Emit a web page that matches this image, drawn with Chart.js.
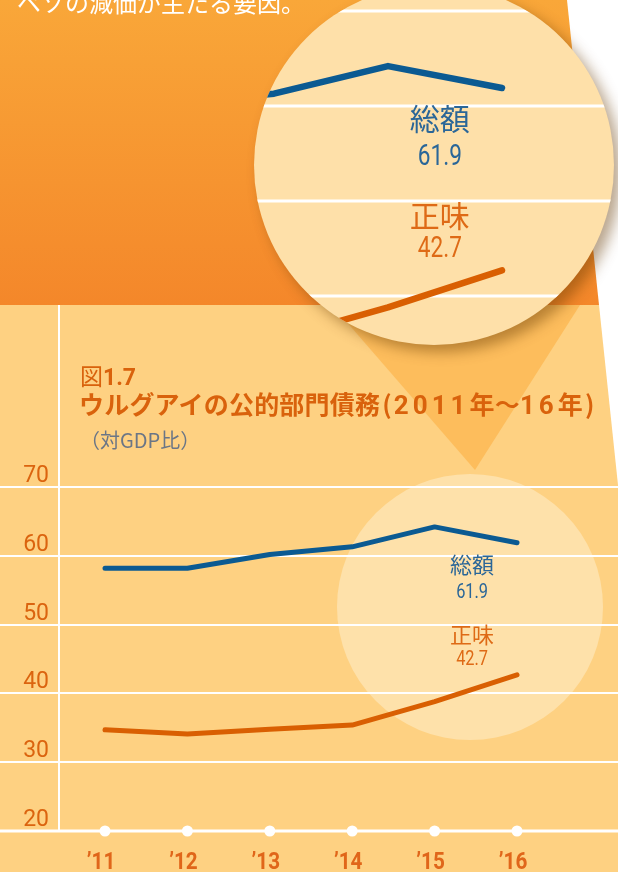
<!DOCTYPE html>
<html lang="ja">
<head>
<meta charset="utf-8">
<script src="https://cdn.jsdelivr.net/npm/chart.js@4.4.1/dist/chart.umd.min.js"></script>
<style>
body { margin: 0; background: #fff; }
#wrap { position: relative; width: 618px; height: 872px; overflow: hidden; font-family: "Noto Sans CJK JP", sans-serif; }
#main { position: absolute; left: 0; top: 0; }
#lens { position: absolute; left: 254px; top: -15px; width: 360px; height: 360px; border-radius: 50%; overflow: hidden; background: #fee0a9; box-shadow: 7px 7px 14px rgba(100, 55, 0, 0.45); }
.txt { position: absolute; white-space: nowrap; }
#lead { left: 17px; top: -10px; font-size: 24px; line-height: 24px; color: #fff; }
#fig { left: 80px; top: 364px; font-size: 23px; line-height: 23px; color: #d9620c; }
#fig b { font-family: Roboto, sans-serif; font-weight: 700; }
#title { left: 79px; top: 391px; font-size: 25px; line-height: 25px; color: #d9620c; font-weight: 700; letter-spacing: 0.2px; }
#title .d { font-family: Roboto, sans-serif; font-size: 26px; letter-spacing: 4px; }
#title .p { margin: 0 2px; }
#unit { left: 80px; top: 429px; font-size: 20px; line-height: 21px; color: #6b7686; }
</style>
</head>
<body>
<div id="wrap">
	<canvas id="main" width="618" height="872"></canvas>
	<div class="txt" id="lead">ペソの減価が主たる要因。</div>
	<div class="txt" id="fig">図<b>1.7</b></div>
	<div class="txt" id="title">ウルグアイの公的部門債務<span class="p">(</span><span class="d">2011</span>年～<span class="d">16</span>年<span class="p">)</span></div>
	<div class="txt" id="unit">（対GDP比）</div>
	<div id="lens"><canvas id="zoom" width="360" height="360"></canvas></div>
</div>
<script>
'use strict';

const years = [2011, 2012, 2013, 2014, 2015, 2016];
const yearLabels = ['’11', '’12', '’13', '’14', '’15', '’16'];
const grossDebt = [58.2, 58.2, 60.2, 61.3, 64.2, 61.9];
const netDebt = [34.7, 34.1, 34.8, 35.4, 38.8, 42.7];
const yTicks = [20, 30, 40, 50, 60, 70];
const seriesNames = ['総額', '正味'];
const lastValues = ['61.9', '42.7'];

const BLUE = '#0b5a92';
const ORANGE = '#d95f02';
const LABEL_BLUE = '#2a6698';
const LABEL_ORANGE = '#de6a16';

function points(values) {
	return years.map((yr, i) => ({ x: yr, y: values[i] }));
}

function datasets(width) {
	return [
		{ data: points(grossDebt), borderColor: BLUE, borderWidth: width, pointRadius: 0, borderCapStyle: 'round', borderJoinStyle: 'round', clip: false },
		{ data: points(netDebt), borderColor: ORANGE, borderWidth: width, pointRadius: 0, borderCapStyle: 'round', borderJoinStyle: 'round', clip: false }
	];
}

// condensed-looking text for the figures
function narrowText(ctx, text, x, y, sx) {
	ctx.save();
	ctx.translate(x, y);
	ctx.scale(sx, 1);
	ctx.fillText(text, 0, 0);
	ctx.restore();
}

// end labels, placed in data space so both views agree
function drawEndLabels(chart, k) {
	let ctx = chart.ctx;
	let xs = chart.scales.x;
	let ys = chart.scales.y;
	let cx = xs.getPixelForValue(2015.455);
	ctx.save();
	ctx.textAlign = 'center';
	ctx.textBaseline = 'middle';
	ctx.fillStyle = LABEL_BLUE;
	ctx.font = `${Math.round(22 * k)}px "Noto Sans CJK JP"`;
	ctx.fillText(seriesNames[0], cx, ys.getPixelForValue(58.65));
	ctx.font = `${Math.round(21 * k)}px Roboto`;
	narrowText(ctx, lastValues[0], cx, ys.getPixelForValue(54.6), 0.78);
	ctx.fillStyle = LABEL_ORANGE;
	ctx.font = `${Math.round(22 * k)}px "Noto Sans CJK JP"`;
	ctx.fillText(seriesNames[1], cx, ys.getPixelForValue(48.5));
	ctx.font = `${Math.round(21 * k)}px Roboto`;
	narrowText(ctx, lastValues[1], cx, ys.getPixelForValue(44.85), 0.78);
	ctx.restore();
}

const mainDecor = {
	id: 'mainDecor',
	beforeDraw(chart) {
		let ctx = chart.ctx;
		ctx.save();
		ctx.fillStyle = '#fff';
		ctx.fillRect(0, 0, 618, 872);

		// upper dark orange panel
		let grad = ctx.createLinearGradient(0, 0, 0, 305);
		grad.addColorStop(0, '#f9a739');
		grad.addColorStop(1, '#f4872a');
		ctx.fillStyle = grad;
		ctx.beginPath();
		ctx.moveTo(0, 0);
		ctx.lineTo(567, 0);
		ctx.lineTo(599, 305);
		ctx.lineTo(0, 305);
		ctx.closePath();
		ctx.fill();

		// light panel with the chart
		ctx.fillStyle = '#fed182';
		ctx.beginPath();
		ctx.moveTo(0, 305);
		ctx.lineTo(599, 305);
		ctx.lineTo(618, 485);
		ctx.lineTo(618, 872);
		ctx.lineTo(0, 872);
		ctx.closePath();
		ctx.fill();

		// pointer from the lens
		ctx.fillStyle = '#fdbd5c';
		ctx.beginPath();
		ctx.moveTo(332, 305);
		ctx.lineTo(580, 305);
		ctx.lineTo(475, 470);
		ctx.closePath();
		ctx.fill();

		// small circle that is magnified
		ctx.fillStyle = '#fee1aa';
		ctx.beginPath();
		ctx.arc(470, 607, 133, 0, Math.PI * 2);
		ctx.fill();
		ctx.restore();
	},
	beforeDatasetsDraw(chart) {
		let ctx = chart.ctx;
		let ys = chart.scales.y;
		ctx.save();
		ctx.strokeStyle = '#fff';
		ctx.lineWidth = 2;
		yTicks.forEach((t) => {
			if (t === 20) return;
			let y = Math.round(ys.getPixelForValue(t));
			ctx.beginPath();
			ctx.moveTo(0, y);
			ctx.lineTo(618, y);
			ctx.stroke();
		});
		// vertical axis line
		ctx.beginPath();
		ctx.moveTo(59, 305);
		ctx.lineTo(59, ys.getPixelForValue(20));
		ctx.stroke();
		// base line
		ctx.lineWidth = 3;
		let base = ys.getPixelForValue(20);
		ctx.beginPath();
		ctx.moveTo(0, base);
		ctx.lineTo(618, base);
		ctx.stroke();
		ctx.restore();
	},
	afterDatasetsDraw(chart) {
		let ctx = chart.ctx;
		let xs = chart.scales.x;
		let ys = chart.scales.y;
		let base = ys.getPixelForValue(20);
		ctx.save();

		ctx.fillStyle = '#fff';
		years.forEach((yr) => {
			ctx.beginPath();
			ctx.arc(xs.getPixelForValue(yr), base, 5.5, 0, Math.PI * 2);
			ctx.fill();
		});

		ctx.fillStyle = '#db640f';
		ctx.font = '23px Roboto';
		ctx.textAlign = 'right';
		ctx.textBaseline = 'alphabetic';
		yTicks.forEach((t) => {
			ctx.fillText(String(t), 49, ys.getPixelForValue(t) - 5);
		});

		ctx.fillStyle = '#e0661a';
		ctx.font = 'bold 23px Roboto';
		ctx.textAlign = 'center';
		years.forEach((yr, i) => {
			narrowText(ctx, yearLabels[i], xs.getPixelForValue(yr) - 4, 869, 0.9);
		});
		ctx.restore();

		drawEndLabels(chart, 1);
	}
};

const zoomDecor = {
	id: 'zoomDecor',
	beforeDatasetsDraw(chart) {
		let ctx = chart.ctx;
		let ys = chart.scales.y;
		ctx.save();
		ctx.strokeStyle = '#fff';
		ctx.lineWidth = 3;
		yTicks.forEach((t) => {
			let y = ys.getPixelForValue(t);
			ctx.beginPath();
			ctx.moveTo(0, y);
			ctx.lineTo(360, y);
			ctx.stroke();
		});
		ctx.restore();
	},
	afterDatasetsDraw(chart) {
		drawEndLabels(chart, 1.36);
	}
};

const common = {
	responsive: false,
	animation: false,
	devicePixelRatio: 1,
	events: [],
	plugins: { legend: { display: false }, tooltip: { enabled: false } }
};

new Chart(document.getElementById('main'), {
	type: 'line',
	data: { datasets: datasets(5) },
	options: Object.assign({}, common, {
		layout: { padding: { left: 59, right: 0, top: 487, bottom: 41 } },
		scales: {
			x: { type: 'linear', display: false, min: 2010.4417, max: 2017.2257 },
			y: { display: false, min: 20, max: 70 }
		}
	}),
	plugins: [mainDecor]
});

new Chart(document.getElementById('zoom'), {
	type: 'line',
	data: { datasets: datasets(6.5) },
	options: Object.assign({}, common, {
		layout: { padding: 0 },
		scales: {
			x: { type: 'linear', display: false, min: 2013.8246, max: 2016.9825 },
			y: { display: false, min: 34.842, max: 72.737 }
		}
	}),
	plugins: [zoomDecor]
});
</script>
</body>
</html>
